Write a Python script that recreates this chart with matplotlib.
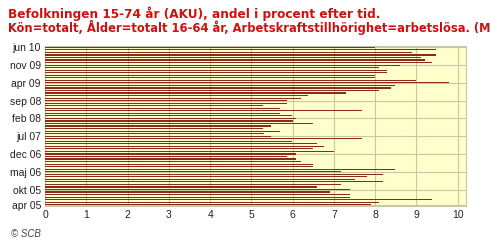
import matplotlib
matplotlib.use("Agg")
import matplotlib.pyplot as plt
import numpy as np

months_sv = ["jan", "feb", "mar", "apr", "maj", "jun", "jul", "aug", "sep", "okt", "nov", "dec"]

# categories from apr 05 (bottom) to jun 10 (top)
categories = []
for y in range(2005, 2011):
    for m in range(12):
        if (y == 2005 and m < 3) or (y == 2010 and m > 5):
            continue
        categories.append(f"{months_sv[m]} {str(y)[2:]}")

# values read from top (jun 10) to bottom (apr 05)
values_top_down = [
    8.0, 9.48, 8.89, 9.48, 9.1, 9.2, 9.38, 8.59, 8.08, 8.29,
    8.29, 8.0, 8.0, 8.98, 9.78, 8.49, 8.39, 8.08, 7.3, 6.37,
    6.19, 5.87, 5.87, 5.28, 5.69, 7.69, 5.69, 5.99, 6.09, 6.0,
    6.49, 5.48, 5.28, 5.69, 5.31, 5.48, 7.69, 5.99, 6.59, 6.77,
    6.49, 7.0, 6.09, 5.87, 6.09, 6.2, 6.49, 6.49, 8.49, 7.18,
    8.2, 7.81, 7.5, 8.2, 7.18, 6.59, 7.4, 6.9, 7.4, 7.4,
    9.38, 8.08, 7.89,
]
values = values_top_down[::-1]

tick_labels = ["apr 05", "okt 05", "maj 06", "dec 06", "jul 07", "feb 08",
               "sep 08", "apr 09", "nov 09", "jun 10"]
x_ticks = list(range(0, 11))

title_line1 = "Befolkningen 15-74 år (AKU), andel i procent efter tid."
title_line2 = "Kön=totalt, Ålder=totalt 16-64 år, Arbetskraftstillhörighet=arbetslösa. (Månad)"

plt.rcParams['font.family'] = ['Liberation Sans', 'DejaVu Sans']

fig = plt.figure(figsize=(4.9, 2.45), dpi=100)
fig.patch.set_facecolor("white")
ax = fig.add_axes([0.092, 0.158, 0.859, 0.655])
ax.set_facecolor("#FFFFCC")

ypos = np.arange(len(categories))
ax.barh(ypos, values, height=0.45, color="#8E2A1A", zorder=3, linewidth=0)

ax.set_xlim(0, 10.2)
ax.set_ylim(-0.6, len(categories) - 0.4)
ax.set_xticks(x_ticks)
ax.set_xticklabels([str(t) for t in x_ticks], fontsize=7.5, color="#222222")
tick_pos = [categories.index(t) for t in tick_labels]
ax.set_yticks(tick_pos)
ax.set_yticklabels(tick_labels, fontsize=7.5, color="#222222")
ax.tick_params(length=0, pad=3)
ax.grid(True, color="#C8C8A8", linewidth=0.8, zorder=1)
ax.set_axisbelow(True)
for s in ax.spines.values():
    s.set_color("#C8C8A8")
    s.set_linewidth(0.8)

fig.text(0.016, 0.945, title_line1, fontsize=8.7, fontweight="bold",
         family=["DejaVu Sans"], color="#CC1111", ha="left", va="center")
fig.text(0.016, 0.888, title_line2, fontsize=8.3, fontweight="bold",
         family=["DejaVu Sans"], color="#CC1111", ha="left", va="center")
fig.text(0.022, 0.025, "© SCB", fontsize=7, style="italic", color="#444444",
         ha="left", va="bottom")

fig.savefig("out.png", dpi=100, facecolor="white")
